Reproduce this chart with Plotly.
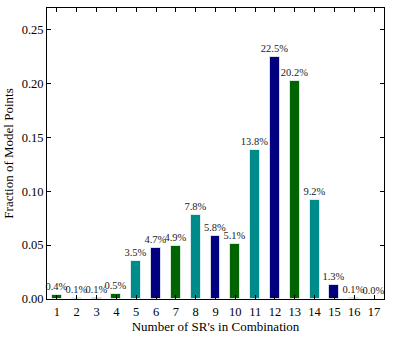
import plotly.graph_objects as go

combo_sizes = list(range(1, 18))
fractions = [0.004, 0.001, 0.001, 0.005, 0.035, 0.047, 0.049, 0.078, 0.058,
             0.051, 0.138, 0.225, 0.202, 0.092, 0.013, 0.001, 0.0003]
palette = ["#006400", "#008b8b", "#000080"]

bar_colors = [palette[i % 3] for i in range(len(combo_sizes))]
labels = [f"{v * 100:.1f}%" for v in fractions]

font_family = "Liberation Serif, DejaVu Serif, serif"

fig = go.Figure(
    go.Bar(
        x=combo_sizes,
        y=fractions,
        width=0.5,
        marker=dict(color=bar_colors, line=dict(color="rgba(255,255,255,0.7)", width=1)),
        text=labels,
        textposition="outside",
        constraintext="none",
        cliponaxis=False,
        textfont=dict(size=10.5, color="#222"),
    )
)

axis_common = dict(
    showline=True,
    linecolor="black",
    linewidth=1,
    mirror="ticks",
    ticks="inside",
    ticklen=4,
    tickcolor="black",
    showgrid=False,
    zeroline=False,
    automargin=False,
    tickfont=dict(size=12.5, color="black"),
)

fig.update_xaxes(
    range=[0.5, 17.5],
    tickvals=combo_sizes,
    ticklabelstandoff=1,
    title=dict(text="Number of SR's in Combination", font=dict(size=13), standoff=2),
    **axis_common,
)
fig.update_yaxes(
    range=[0, 0.27],
    tickvals=[0, 0.05, 0.10, 0.15, 0.20, 0.25],
    tickformat=".2f",
    title=dict(text="Fraction of Model Points", font=dict(size=13), standoff=5),
    **axis_common,
)
fig.update_layout(
    width=395,
    height=338,
    margin=dict(l=47, r=11, t=8, b=39),
    plot_bgcolor="white",
    paper_bgcolor="white",
    font=dict(family=font_family, color="black"),
    showlegend=False,
    bargap=0,
)

# the page body has a default 8px margin; drop it so the figure sits at 0,0
fig.write_html(
    "out.html",
    config={"displayModeBar": False},
    post_script="document.body.style.margin='0';",
)
